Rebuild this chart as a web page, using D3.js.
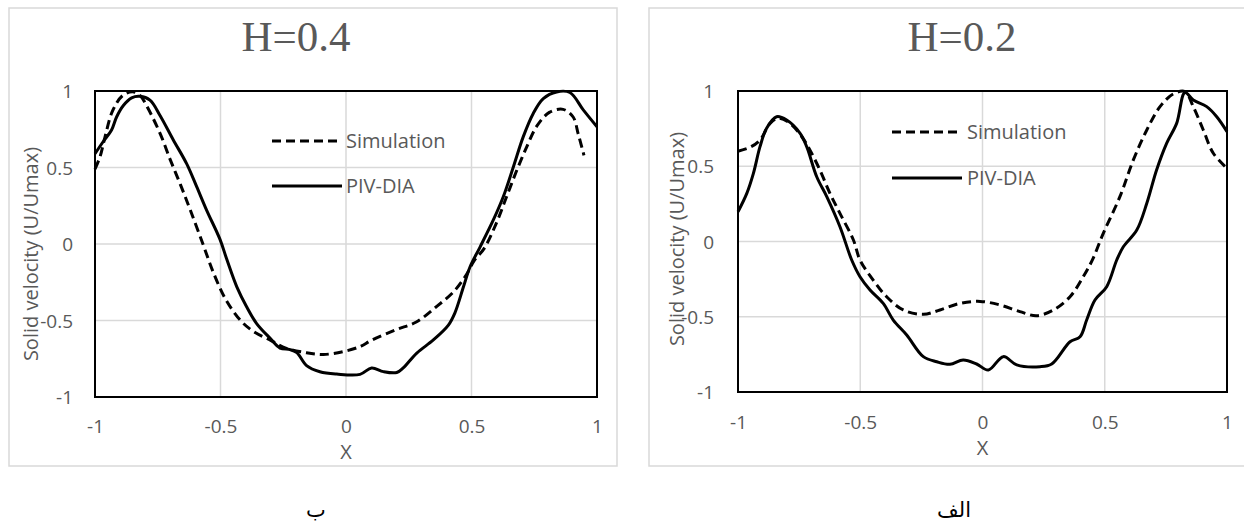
<!DOCTYPE html>
<html>
<head>
<meta charset="utf-8">
<script src="https://cdn.jsdelivr.net/npm/d3@7"></script>
<style>
  html, body { margin: 0; padding: 0; background: #ffffff; }
  svg { display: block; }
</style>
</head>
<body>
<svg id="chart" width="1244" height="529"></svg>
<script>
// ---------- data ----------
const xTicks = [-1, -0.5, 0, 0.5, 1];
const yTicks = [-1, -0.5, 0, 0.5, 1];
const seriesNames = ["Simulation", "PIV-DIA"];
const panelTitles = ["H=0.4", "H=0.2"];
const panelCaptions = ["ب", "الف"];
const xAxisTitle = "X";
const yAxisTitle = "Solid velocity (U/Umax)";

// H=0.4 (left panel)
const simH04_x = [-1.0, -0.98, -0.96, -0.93, -0.89, -0.85, -0.82, -0.79, -0.74, -0.70, -0.66, -0.62, -0.57, -0.53, -0.48, -0.42, -0.37, -0.30, -0.24, -0.16, -0.09, -0.01, 0.06, 0.10, 0.20, 0.28, 0.36, 0.43, 0.48, 0.51, 0.55, 0.60, 0.64, 0.68, 0.72, 0.76, 0.81, 0.865, 0.905, 0.925, 0.948];
const simH04_y = [0.49, 0.57, 0.70, 0.87, 0.97, 0.995, 0.97, 0.89, 0.72, 0.55, 0.39, 0.22, 0.0, -0.18, -0.36, -0.50, -0.57, -0.63, -0.68, -0.71, -0.722, -0.703, -0.668, -0.63, -0.56, -0.51, -0.41, -0.31, -0.20, -0.11, -0.03, 0.14, 0.31, 0.48, 0.635, 0.77, 0.86, 0.88, 0.83, 0.72, 0.58];
const pivH04_x = [-1.0, -0.967, -0.934, -0.914, -0.887, -0.854, -0.821, -0.781, -0.741, -0.688, -0.635, -0.595, -0.555, -0.502, -0.475, -0.435, -0.396, -0.356, -0.303, -0.263, -0.223, -0.196, -0.157, -0.104, -0.037, 0.056, 0.102, 0.149, 0.202, 0.228, 0.282, 0.348, 0.408, 0.434, 0.468, 0.494, 0.534, 0.587, 0.627, 0.667, 0.706, 0.746, 0.786, 0.839, 0.892, 0.946, 1.0];
const pivH04_y = [0.59, 0.67, 0.745, 0.83, 0.905, 0.955, 0.965, 0.94, 0.84, 0.68, 0.525, 0.375, 0.22, 0.03, -0.10, -0.28, -0.41, -0.52, -0.615, -0.68, -0.69, -0.71, -0.795, -0.835, -0.85, -0.852, -0.81, -0.834, -0.84, -0.81, -0.713, -0.627, -0.53, -0.45, -0.28, -0.15, -0.02, 0.157, 0.31, 0.505, 0.70, 0.853, 0.95, 0.994, 0.99, 0.875, 0.766];

// H=0.2 (right panel)
const simH02_x = [-1.0, -0.951, -0.91, -0.869, -0.835, -0.787, -0.739, -0.706, -0.665, -0.624, -0.583, -0.528, -0.501, -0.447, -0.392, -0.324, -0.242, -0.174, -0.092, -0.01, 0.072, 0.153, 0.222, 0.29, 0.358, 0.412, 0.45, 0.494, 0.562, 0.617, 0.672, 0.726, 0.78, 0.828, 0.862, 0.903, 0.944, 1.0];
const simH02_y = [0.60, 0.626, 0.674, 0.785, 0.82, 0.785, 0.696, 0.608, 0.475, 0.32, 0.187, 0.01, -0.123, -0.256, -0.367, -0.455, -0.484, -0.455, -0.411, -0.398, -0.422, -0.466, -0.493, -0.455, -0.367, -0.234, -0.12, 0.054, 0.298, 0.542, 0.741, 0.896, 0.98, 0.996, 0.896, 0.741, 0.586, 0.486];
const pivH02_x = [-1.0, -0.964, -0.937, -0.91, -0.883, -0.842, -0.801, -0.746, -0.719, -0.678, -0.637, -0.583, -0.535, -0.501, -0.46, -0.406, -0.365, -0.31, -0.242, -0.187, -0.133, -0.079, -0.024, 0.024, 0.085, 0.14, 0.235, 0.283, 0.358, 0.399, 0.426, 0.46, 0.508, 0.549, 0.576, 0.631, 0.672, 0.712, 0.753, 0.794, 0.828, 0.862, 0.917, 0.958, 1.0];
const pivH02_y = [0.198, 0.32, 0.453, 0.63, 0.752, 0.829, 0.807, 0.719, 0.63, 0.43, 0.298, 0.098, -0.123, -0.234, -0.322, -0.411, -0.522, -0.621, -0.765, -0.799, -0.816, -0.787, -0.814, -0.854, -0.765, -0.82, -0.832, -0.814, -0.666, -0.633, -0.522, -0.389, -0.3, -0.123, -0.035, 0.076, 0.254, 0.475, 0.652, 0.785, 0.99, 0.94, 0.896, 0.829, 0.73];

// ---------- layout ----------
const svg = d3.select("#chart");
const GREY = "#595959";
const GRID = "#d9d9d9";

const panels = [
  {
    frame: [9, 8, 617, 466],
    plot: { left: 95, right: 597, top: 91, bottom: 397 },
    title: panelTitles[0], titleX: 296, titleY: 51,
    sim: [simH04_x, simH04_y], piv: [pivH04_x, pivH04_y],
    yTitleX: 31, yTitleY: 254, yLabelRight: 73,
    xLabelBase: 433, xTitleBase: 459,
    legend: { x1: 272, x2: 342, y1: 141, y2: 186, tx: 346 },
    caption: panelCaptions[0], capX: 316
  },
  {
    frame: [649, 8, 1250, 466],
    plot: { left: 738, right: 1227, top: 91, bottom: 392 },
    title: panelTitles[1], titleX: 962, titleY: 51,
    sim: [simH02_x, simH02_y], piv: [pivH02_x, pivH02_y],
    yTitleX: 677, yTitleY: 239, yLabelRight: 714,
    xLabelBase: 429, xTitleBase: 455,
    legend: { x1: 892, x2: 962, y1: 132, y2: 178, tx: 967 },
    caption: panelCaptions[1], capX: 954
  }
];

panels.forEach(p => {
  const g = svg.append("g");
  const [fx1, fy1, fx2, fy2] = p.frame;
  g.append("rect")
    .attr("x", fx1).attr("y", fy1)
    .attr("width", fx2 - fx1).attr("height", fy2 - fy1)
    .attr("fill", "#ffffff").attr("stroke", GRID).attr("stroke-width", 1.5);

  const x = d3.scaleLinear().domain([-1, 1]).range([p.plot.left, p.plot.right]);
  const y = d3.scaleLinear().domain([-1, 1]).range([p.plot.bottom, p.plot.top]);

  // gridlines
  g.append("g").selectAll("line").data(xTicks.filter(t => t > -1 && t < 1)).join("line")
    .attr("x1", d => x(d)).attr("x2", d => x(d))
    .attr("y1", p.plot.top).attr("y2", p.plot.bottom)
    .attr("stroke", GRID).attr("stroke-width", 1.5);
  g.append("g").selectAll("line").data(yTicks.filter(t => t > -1 && t < 1)).join("line")
    .attr("x1", p.plot.left).attr("x2", p.plot.right)
    .attr("y1", d => y(d)).attr("y2", d => y(d))
    .attr("stroke", GRID).attr("stroke-width", 1.5);

  // plot border box
  g.append("rect")
    .attr("x", p.plot.left).attr("y", p.plot.top)
    .attr("width", p.plot.right - p.plot.left).attr("height", p.plot.bottom - p.plot.top)
    .attr("fill", "none").attr("stroke", "#000").attr("stroke-width", 2);

  const fmt = d => String(d);

  // x axis labels (via d3 axis, domain and ticks hidden)
  const xAxis = d3.axisBottom(x).tickValues(xTicks).tickSize(0).tickFormat(fmt);
  const xg = g.append("g").attr("transform", `translate(0,${p.xLabelBase})`).call(xAxis);
  xg.select(".domain").remove();
  xg.selectAll("text")
    .attr("y", 0).attr("dy", 0)
    .attr("fill", GREY).style("font-family", "'Open Sans', sans-serif").style("font-size", "19px");

  const yAxis = d3.axisLeft(y).tickValues(yTicks).tickSize(0).tickFormat(fmt);
  const yg = g.append("g").attr("transform", `translate(${p.yLabelRight},0)`).call(yAxis);
  yg.select(".domain").remove();
  yg.selectAll("text")
    .attr("x", 0).attr("dy", "0.35em")
    .attr("fill", GREY).style("font-family", "'Open Sans', sans-serif").style("font-size", "19px");

  // axis titles
  g.append("text")
    .attr("x", x(0)).attr("y", p.xTitleBase)
    .attr("text-anchor", "middle")
    .attr("fill", GREY).style("font-family", "'Open Sans', sans-serif").style("font-size", "20px")
    .text(xAxisTitle);
  g.append("text")
    .attr("transform", `translate(${p.yTitleX},${p.yTitleY}) rotate(-90)`)
    .attr("text-anchor", "middle").attr("dy", "0.35em")
    .attr("fill", GREY).style("font-family", "'Open Sans', sans-serif").style("font-size", "20px")
    .text(yAxisTitle);

  // chart title
  g.append("text")
    .attr("x", p.titleX).attr("y", p.titleY)
    .attr("text-anchor", "middle")
    .attr("fill", GREY).style("font-family", "'Liberation Serif', 'Times New Roman', serif").style("font-size", "43px")
    .text(p.title);

  // series lines
  const line = d3.line().x(d => x(d[0])).y(d => y(d[1])).curve(d3.curveCatmullRom.alpha(0.5));
  const simPts = p.sim[0].map((v, i) => [v, p.sim[1][i]]);
  const pivPts = p.piv[0].map((v, i) => [v, p.piv[1][i]]);
  g.append("path").attr("d", line(simPts))
    .attr("fill", "none").attr("stroke", "#000").attr("stroke-width", 3)
    .attr("stroke-dasharray", "9,5");
  g.append("path").attr("d", line(pivPts))
    .attr("fill", "none").attr("stroke", "#000").attr("stroke-width", 3)
    .attr("stroke-linejoin", "round");

  // legend
  const L = p.legend;
  g.append("line").attr("x1", L.x1).attr("x2", L.x2).attr("y1", L.y1).attr("y2", L.y1)
    .attr("stroke", "#000").attr("stroke-width", 3).attr("stroke-dasharray", "9,5");
  g.append("line").attr("x1", L.x1).attr("x2", L.x2).attr("y1", L.y2).attr("y2", L.y2)
    .attr("stroke", "#000").attr("stroke-width", 3);
  g.append("text").attr("x", L.tx).attr("y", L.y1).attr("dy", "0.35em")
    .attr("fill", GREY).style("font-family", "'Open Sans', sans-serif").style("font-size", "20px")
    .text(seriesNames[0]);
  g.append("text").attr("x", L.tx).attr("y", L.y2).attr("dy", "0.35em")
    .attr("fill", GREY).style("font-family", "'Open Sans', sans-serif").style("font-size", "20px")
    .text(seriesNames[1]);

  // caption below panel
  svg.append("text")
    .attr("x", p.capX).attr("y", 517)
    .attr("text-anchor", "middle")
    .attr("fill", "#000").style("font-family", "'DejaVu Sans', sans-serif").style("font-size", "21px")
    .text(p.caption);
});
</script>
</body>
</html>
